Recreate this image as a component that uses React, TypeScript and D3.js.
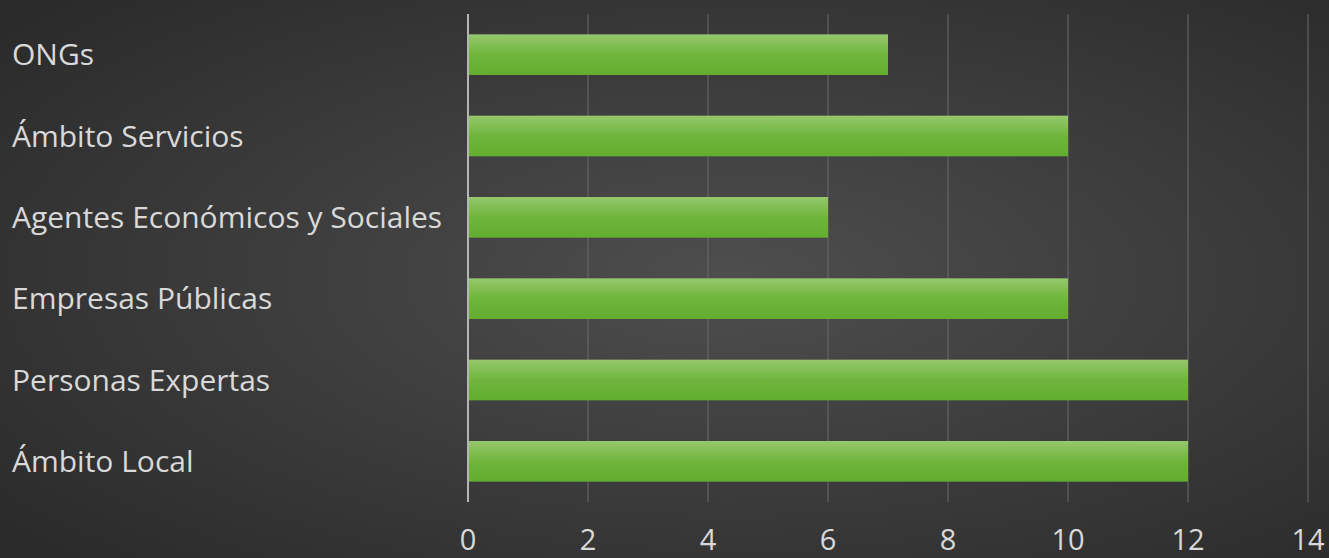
import React from "react";
import * as d3 from "d3";

const categories = ["ONGs", "Ámbito Servicios", "Agentes Económicos y Sociales", "Empresas Públicas", "Personas Expertas", "Ámbito Local"];
const values = [7, 10, 6, 10, 12, 12];
const ticks = [0, 2, 4, 6, 8, 10, 12, 14];

const W = 1329, H = 558;

export default function App() {
  const x = d3.scaleLinear().domain([0, 14]).range([468, 1308]);
  const y = d3.scaleBand<string>().domain(categories).range([14, 502]).paddingInner(0.5).paddingOuter(0.25);
  const font = "Open Sans, sans-serif";
  return (
    <svg width={W} height={H} style={{ position: "absolute", left: 0, top: 0 }}>
      <defs>
        <radialGradient id="bg" cx="0.55" cy="0.5" r="0.7">
          <stop offset="0" stopColor="#4e4e4e" />
          <stop offset="1" stopColor="#2b2b2b" />
        </radialGradient>
        <linearGradient id="bar" x1="0" y1="0" x2="0" y2="1">
          <stop offset="0" stopColor="#95c86c" />
          <stop offset="0.5" stopColor="#6fb53d" />
          <stop offset="1" stopColor="#62ad2f" />
        </linearGradient>
      </defs>
      <rect x={0} y={0} width={W} height={H} fill="url(#bg)" />
      {ticks.slice(1).map((t) => (
        <line key={t} x1={x(t)} x2={x(t)} y1={14} y2={502} stroke="#6a6a6a" strokeWidth={1} />
      ))}
      {categories.map((c, i) => (
        <rect key={c} x={x(0)} y={y(c)!} width={x(values[i]) - x(0)} height={y.bandwidth()} fill="url(#bar)" />
      ))}
      <line x1={x(0)} x2={x(0)} y1={14} y2={502} stroke="#b5b5b5" strokeWidth={2} />
      {categories.map((c) => (
        <text key={c} x={12} y={y(c)! + y.bandwidth() / 2} dy="0.35em" fill="#d9d9d9" fontSize={30} fontFamily={font}>
          {c}
        </text>
      ))}
      {ticks.map((t) => (
        <text key={t} x={x(t)} y={540} dy="0.35em" textAnchor="middle" fill="#d9d9d9" fontSize={29} fontFamily={font}>
          {t}
        </text>
      ))}
    </svg>
  );
}
